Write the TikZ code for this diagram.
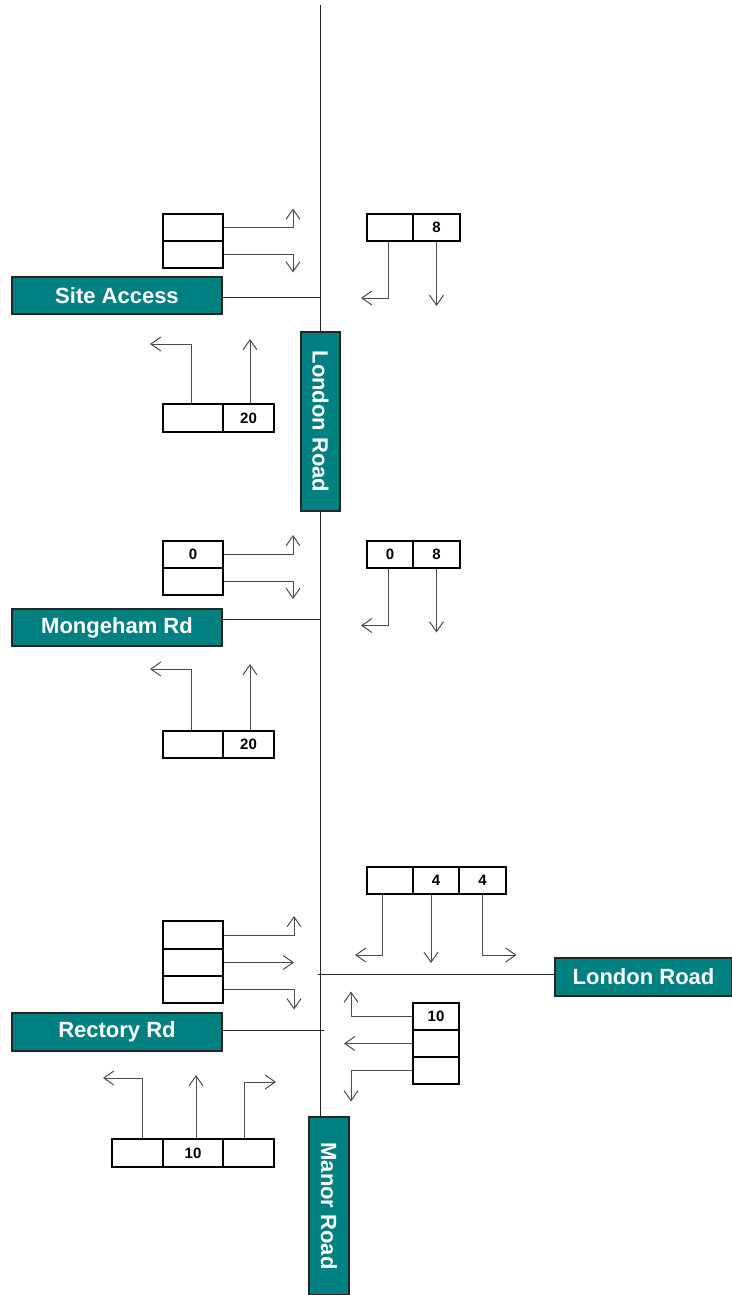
\documentclass[tikz,border=0pt]{standalone}
\usepackage{fontspec}
\setmainfont{Liberation Sans}
\usetikzlibrary{arrows.meta,calc}
\definecolor{roadteal}{HTML}{008080}
\begin{document}
\begin{tikzpicture}[x=1pt,y=-1pt,
  road/.style={draw=black!85, line width=2pt, fill=roadteal, text=white,
    font=\bfseries\fontsize{22}{26}\selectfont, inner sep=0pt, minimum height=37pt},
  cellbox/.style={draw=black, line width=2pt, inner sep=0pt,
    font=\bfseries\fontsize{15}{17}\selectfont, minimum height=27pt},
  cellw/.style={cellbox, minimum width=60pt},
  celln/.style={cellbox, minimum width=46pt},
  cellm/.style={cellbox, minimum width=51pt},
  arr/.style={draw=black!70, line width=1pt, -{Straight Barb[length=10pt,width=14pt]}},
  roadline/.style={draw=black!85, line width=1pt}]
\useasboundingbox (0,0) rectangle (731,1295);
\fill[white] (0,0) rectangle (731,1295);

% main road line
\coordinate (top) at (320.5,5);
\node[road, rotate=-90, minimum width=178pt, minimum height=40pt] (manor) at (329,1206) {Manor Road};
\draw[roadline] (top) -- (top |- manor.west);

% side roads
\node[road, minimum width=210pt] (sa) at (117,295.5) {Site Access};
\node[road, minimum width=210pt] (mr) at (117,627.5) {Mongeham Rd};
\node[road, minimum width=210pt, minimum height=38pt] (rr) at (117,1032) {Rectory Rd};
\node[road, minimum width=177pt, minimum height=38pt] (lr) at (643.5,977) {London Road};

\coordinate (sal) at ([yshift=-1.5pt]sa.east);
\draw[roadline] (sal) -- (sal -| top);
\coordinate (mrl) at ([yshift=8.5pt]mr.east);
\draw[roadline] (mrl) -- (mrl -| top);
\coordinate (rrl) at ([yshift=2pt]rr.east);
\draw[roadline] (rrl) -- (rrl -| top) -- ++(3.5,0);
\coordinate (lrl) at ([yshift=3pt]lr.west);
\draw[roadline] (lrl) -- (lrl -| top) -- ++(-2.5,0);

\node[road, rotate=-90, minimum width=179pt, minimum height=39pt] (lv) at (320.5,421.5) {London Road};

% ---------- Site Access ----------
\node[cellw] (sa1) at (193,227.5) {};
\node[cellw] (sa2) at (193,254.5) {};
\draw[arr] (sa1.east) -- ++(69,0) -- ++(0,-19);
\draw[arr] (sa2.east) -- ++(69,0) -- ++(0,18);

\node[celln] (sb1) at (390,227.5) {};
\node[celln, minimum width=47pt] (sb2) at (436.5,227.5) {8};
\draw[arr] ([xshift=-2pt]sb1.south) -- ++(0,56) -- ++(-27,0);
\draw[arr] (sb2.south) -- ++(0,64);

\node[cellw, minimum height=28pt] (sc1) at (193,418) {};
\node[cellm, minimum height=28pt] (sc2) at (248.5,418) {20};
\draw[arr] ([xshift=-2pt]sc1.north) -- ++(0,-59) -- ++(-41,0);
\draw[arr] ([xshift=1.5pt]sc2.north) -- ++(0,-64);

% ---------- Mongeham Rd ----------
\node[cellw] (md1) at (193,554) {0};
\node[cellw] (md2) at (193,581) {};
\draw[arr] (md1.east) -- ++(69,0) -- ++(0,-19);
\draw[arr] (md2.east) -- ++(69,0) -- ++(0,18);

\node[celln] (me1) at (390,554) {0};
\node[celln, minimum width=47pt] (me2) at (436.5,554) {8};
\draw[arr] ([xshift=-2pt]me1.south) -- ++(0,57) -- ++(-27,0);
\draw[arr] (me2.south) -- ++(0,64);

\node[cellw] (mf1) at (193,744.5) {};
\node[cellm] (mf2) at (248.5,744.5) {20};
\draw[arr] ([xshift=-2pt]mf1.north) -- ++(0,-61) -- ++(-41,0);
\draw[arr] ([xshift=1.5pt]mf2.north) -- ++(0,-66);

% ---------- Rectory Rd / London Road / Manor Road ----------
\node[cellw, minimum height=28pt] (ra1) at (193,935) {};
\node[cellw] (ra2) at (193,962.5) {};
\node[cellw] (ra3) at (193,989.5) {};
\draw[arr] (ra1.east) -- ++(70,0) -- ++(0,-19);
\draw[arr] (ra2.east) -- ++(70,0);
\draw[arr] (ra3.east) -- ++(70,0) -- ++(0,20);

\node[celln] (rb1) at (390,880.5) {};
\node[celln] (rb2) at (436,880.5) {4};
\node[celln, minimum width=47pt] (rb3) at (482.5,880.5) {4};
\draw[arr] ([xshift=-8pt]rb1.south) -- ++(0,60) -- ++(-27,0);
\draw[arr] ([xshift=-5pt]rb2.south) -- ++(0,68);
\draw[arr] (rb3.south) -- ++(0,60) -- ++(34,0);

\node[celln] (rc1) at (436,1016.5) {10};
\node[celln] (rc2) at (436,1043.5) {};
\node[celln] (rc3) at (436,1070.5) {};
\draw[arr] (rc1.west) -- ++(-61,0) -- ++(0,-25);
\draw[arr] (rc2.west) -- ++(-68,0);
\draw[arr] (rc3.west) -- ++(-61,0) -- ++(0,31);

\node[cellm, minimum height=28pt] (rd1) at (137.5,1153) {};
\node[cellw, minimum height=28pt] (rd2) at (193,1153) {10};
\node[cellm, minimum height=28pt] (rd3) at (248.5,1153) {};
\draw[arr] ([xshift=4.5pt]rd1.north) -- ++(0,-60) -- ++(-39,0);
\draw[arr] ([xshift=3pt]rd2.north) -- ++(0,-63);
\draw[arr] ([xshift=-4.5pt]rd3.north) -- ++(0,-56) -- ++(32,0);
\end{tikzpicture}
\end{document}
